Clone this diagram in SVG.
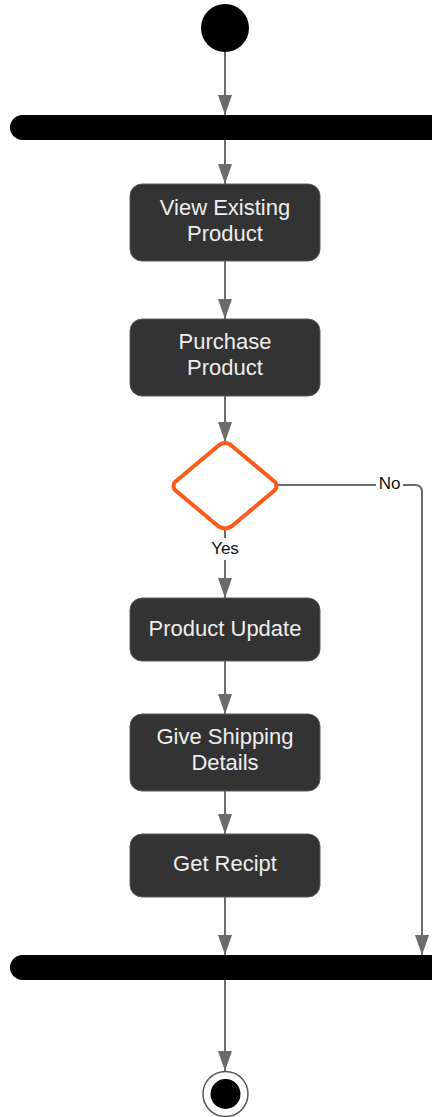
<svg xmlns="http://www.w3.org/2000/svg" width="432" height="1117" viewBox="0 0 432 1117">
  <defs>
    <marker id="arr" viewBox="0 0 20 14" refX="20" refY="7" markerWidth="20" markerHeight="14" markerUnits="userSpaceOnUse" orient="auto">
      <path d="M0,0 L20,7 L0,14 Z" fill="#6b6b6b"/>
    </marker>
    <style>
      .act { fill: #333333; stroke: #5c5c5c; stroke-width: 1; }
      .lbl { font-family: "Liberation Sans", Arial, sans-serif; font-size: 22px; fill: #eeeeee; text-anchor: middle; }
      .edge { fill: none; stroke: #6b6b6b; stroke-width: 2; }
      .elbl { font-family: "Liberation Sans", Arial, sans-serif; font-size: 17px; fill: #111111; text-anchor: middle; }
      .bar { fill: #000000; }
    </style>
  </defs>

  <g id="connectors">
    <line class="edge" x1="225" y1="52" x2="225" y2="115" marker-end="url(#arr)"/>
    <line class="edge" x1="225" y1="140" x2="225" y2="184" marker-end="url(#arr)"/>
    <line class="edge" x1="225" y1="261" x2="225" y2="319" marker-end="url(#arr)"/>
    <line class="edge" x1="225" y1="396" x2="225" y2="442" marker-end="url(#arr)"/>
    <line class="edge" x1="225" y1="529" x2="225" y2="538"/>
    <line class="edge" x1="225" y1="560" x2="225" y2="598" marker-end="url(#arr)"/>
    <path class="edge" d="M278,485 L376,485"/>
    <path class="edge" d="M403,485 L415,485 Q422,485 422,492 L422,955" marker-end="url(#arr)"/>
    <line class="edge" x1="225" y1="661" x2="225" y2="714" marker-end="url(#arr)"/>
    <line class="edge" x1="225" y1="791" x2="225" y2="834" marker-end="url(#arr)"/>
    <line class="edge" x1="225" y1="897" x2="225" y2="955" marker-end="url(#arr)"/>
    <line class="edge" x1="225" y1="980" x2="225" y2="1071" marker-end="url(#arr)"/>
    <text class="elbl" x="225" y="554">Yes</text>
    <text class="elbl" x="389.5" y="489">No</text>
  </g>

  <g id="start">
    <circle cx="225" cy="28" r="24" fill="#000000"/>
  </g>

  <g id="fork">
    <rect class="bar" x="10" y="115" width="440" height="25" rx="12.5"/>
  </g>

  <g id="view-existing-product">
    <rect class="act" x="130" y="184" width="190" height="77" rx="12"/>
    <text class="lbl" x="225" y="215">View Existing</text>
    <text class="lbl" x="225" y="241">Product</text>
  </g>

  <g id="purchase-product">
    <rect class="act" x="130" y="319" width="190" height="77" rx="12"/>
    <text class="lbl" x="225" y="349">Purchase</text>
    <text class="lbl" x="225" y="375">Product</text>
  </g>

  <g id="decision">
    <path d="M225,443 Q229,443 232,446 L275,482 Q278,486 275,490 L232,526 Q225,531 218,526 L175,490 Q172,486 175,482 L218,446 Q221,443 225,443 Z" fill="#ffffff" stroke="#ff5a1a" stroke-width="4" stroke-linejoin="round"/>
  </g>

  <g id="product-update">
    <rect class="act" x="130" y="598" width="190" height="63" rx="12"/>
    <text class="lbl" x="225" y="636">Product Update</text>
  </g>

  <g id="give-shipping-details">
    <rect class="act" x="130" y="714" width="190" height="77" rx="12"/>
    <text class="lbl" x="225" y="744">Give Shipping</text>
    <text class="lbl" x="225" y="770">Details</text>
  </g>

  <g id="get-recipt">
    <rect class="act" x="130" y="834" width="190" height="63" rx="12"/>
    <text class="lbl" x="225" y="871">Get Recipt</text>
  </g>

  <g id="join">
    <rect class="bar" x="10" y="955" width="440" height="25" rx="12.5"/>
  </g>

  <g id="end">
    <circle cx="225.5" cy="1094" r="22.5" fill="#ffffff" stroke="#555555" stroke-width="1.5"/>
    <circle cx="225.5" cy="1094" r="15" fill="#000000"/>
  </g>
</svg>
